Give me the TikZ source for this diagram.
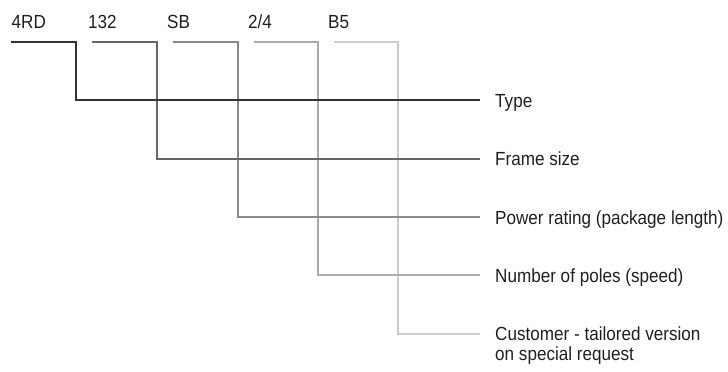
\documentclass[tikz,border=0pt]{standalone}
\usepackage{fontspec}
\setmainfont[FakeStretch=0.9]{Liberation Sans}
\begin{document}
\begin{tikzpicture}[x=1pt,y=-1pt,
  txt/.style={inner sep=0pt,anchor=base west,text=black!88,font=\fontsize{19}{19.5}\selectfont},
  lbl/.style={txt,align=left},
  wire/.style={line width=2pt,line cap=butt,line join=miter}]
\definecolor{c1}{HTML}{333333}
\definecolor{c2}{HTML}{666666}
\definecolor{c3}{HTML}{8A8A8A}
\definecolor{c4}{HTML}{ABABAB}
\definecolor{c5}{HTML}{CCCCCC}
\useasboundingbox (0,0) rectangle (728,372);
% codes
\node[txt] (k1) at (11.5,28) {4RD};
\node[txt] (k2) at (88,28) {132};
\node[txt] (k3) at (167,28) {SB};
\node[txt] (k4) at (248,28) {2/4};
\node[txt] (k5) at (328,28) {B5};
% labels
\node[lbl] (t1) at (495,107) {Type};
\node[lbl] (t2) at (495,165.5) {Frame size};
\node[lbl] (t3) at (495,224) {Power rating (package length)};
\node[lbl] (t4) at (495,282) {Number of poles (speed)};
\node[lbl,anchor=north west] (t5) at (495,327) {Customer - tailored version\\on special request};
% wire ends
\coordinate (s1) at (11,41.7);  \coordinate (v1) at (76,41.7);  \coordinate (e1) at (480,100);
\coordinate (s2) at (92,41.7);  \coordinate (v2) at (157,41.7); \coordinate (e2) at (480,158.5);
\coordinate (s3) at (173,41.7); \coordinate (v3) at (237.5,41.7); \coordinate (e3) at (480,216.8);
\coordinate (s4) at (254,41.7); \coordinate (v4) at (318,41.7); \coordinate (e4) at (480,275.2);
\coordinate (s5) at (334,41.7); \coordinate (v5) at (398.3,41.7); \coordinate (e5) at (480,334);
% wires (light first)
\draw[wire,c5] (s5) -- (v5) |- (e5);
\draw[wire,c4] (s4) -- (v4) |- (e4);
\draw[wire,c3] (s3) -- (v3) |- (e3);
\draw[wire,c2] (s2) -- (v2) |- (e2);
\draw[wire,c1] (s1) -- (v1) |- (e1);
\end{tikzpicture}
\end{document}
